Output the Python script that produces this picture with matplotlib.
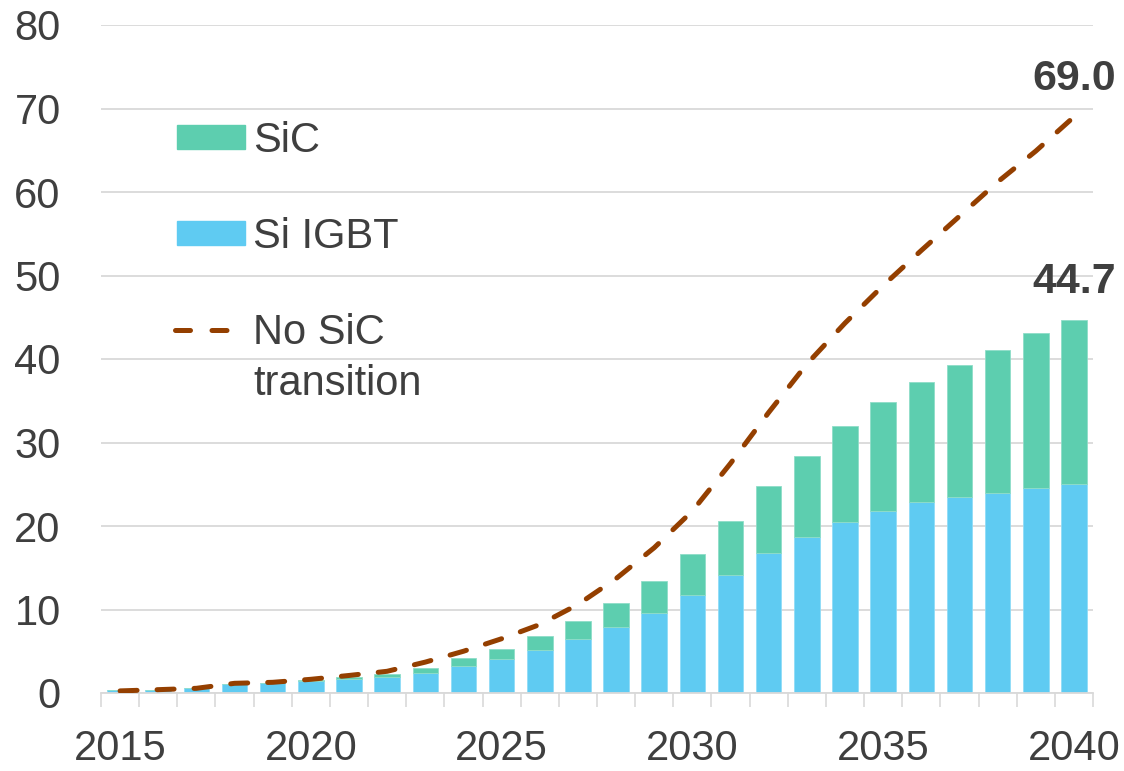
import matplotlib
matplotlib.use("Agg")
import matplotlib.pyplot as plt
from matplotlib.patches import Rectangle
from matplotlib.lines import Line2D
import numpy as np

years = list(range(2015, 2041))
si_igbt = [0.3, 0.4, 0.65, 1.08, 1.16, 1.48, 1.72, 1.88, 2.44, 3.28, 4.12, 5.2, 6.44,
           7.92, 9.64, 11.68, 14.12, 16.72, 18.64, 20.44, 21.8, 22.84, 23.52, 23.96, 24.6, 25.0]
total = [0.3, 0.4, 0.65, 1.08, 1.16, 1.5, 1.92, 2.28, 3.0, 4.16, 5.3, 6.83, 8.6,
         10.72, 13.36, 16.64, 20.64, 24.8, 28.4, 31.92, 34.84, 37.24, 39.28, 41.08, 43.08, 44.7]
sic = [t - s for t, s in zip(total, si_igbt)]
no_sic = [0.25, 0.4, 0.56, 1.16, 1.28, 1.64, 2.1, 2.6, 3.7, 5.0, 6.5, 8.2, 10.6,
          13.7, 17.4, 21.8, 27.5, 33.6, 39.4, 44.3, 48.8, 53.0, 57.1, 61.2, 64.9, 69.0]
tick_years = [2015, 2020, 2025, 2030, 2035, 2040]
yticks = list(range(0, 81, 10))

GREEN = "#5DCEAF"
BLUE = "#5FCBF2"
BROWN = "#943F00"
TXT = "#3F3F3F"
GRID = "#D9D9D9"

plt.rcParams['font.family'] = ['Liberation Sans', 'DejaVu Sans']

fig = plt.figure(figsize=(11.24, 7.71), dpi=100)
ax = fig.add_axes([101/1124, (771-693)/771, 992/1124, 668/771])

ax.bar(years, si_igbt, width=0.67, color=BLUE, edgecolor="#8FDCF7", linewidth=0.6, zorder=2)
ax.bar(years, sic, bottom=si_igbt, width=0.67, color=GREEN, edgecolor="#8FDDC8", linewidth=0.6, zorder=2)
line, = ax.plot(years, no_sic, color=BROWN, linewidth=3.6, zorder=3,
                dash_capstyle='round', solid_capstyle='round')
line.set_dashes([3.4, 4.0])

ax.set_xlim(2014.5, 2040.5)
ax.set_ylim(0, 80)
ax.set_yticks(yticks)
ax.set_xticks(tick_years)
ax.set_xticks(np.arange(2014.5, 2041, 1), minor=True)
ax.tick_params(axis='y', length=0, pad=29, labelsize=30, labelcolor=TXT)
ax.tick_params(axis='x', which='major', length=0, pad=26, labelsize=30, labelcolor=TXT)
ax.tick_params(axis='x', which='minor', length=10, width=1.2, color=GRID)
ax.grid(axis='y', color=GRID, linewidth=1.3, zorder=0)
ax.set_axisbelow(True)
for s in ['left', 'right', 'top']:
    ax.spines[s].set_visible(False)
ax.spines['bottom'].set_color(GRID)
ax.spines['bottom'].set_linewidth(1.3)

# end labels
ax.annotate(f"{no_sic[-1]:.1f}", (years[-1], no_sic[-1]), xytext=(0, 19), textcoords='offset points',
            ha='center', va='baseline', fontsize=31, fontweight='bold', color=TXT, annotation_clip=False)
ax.annotate(f"{total[-1]:.1f}", (years[-1], total[-1]), xytext=(0, 19), textcoords='offset points',
            ha='center', va='baseline', fontsize=31, fontweight='bold', color=TXT, annotation_clip=False)

# manual legend
tr = ax.transAxes
ax.add_patch(Rectangle((0.0766, 0.814), 0.0685, 0.036, transform=tr, color=GREEN, clip_on=False))
ax.add_patch(Rectangle((0.0766, 0.671), 0.0685, 0.036, transform=tr, color=BLUE, clip_on=False))
leg_line = Line2D([0.0746, 0.133], [0.543, 0.543], transform=tr, color=BROWN, linewidth=3.6,
                  dash_capstyle='round')
leg_line.set_dashes([3.0, 4.3])
ax.add_line(leg_line)
ax.text(0.1532, 0.8103, "SiC", transform=tr, fontsize=30, color=TXT, va='baseline', ha='left')
ax.text(0.1532, 0.6657, "Si IGBT", transform=tr, fontsize=30, color=TXT, va='baseline', ha='left')
ax.text(0.1532, 0.522, "No SiC", transform=tr, fontsize=30, color=TXT, va='baseline', ha='left')
ax.text(0.1532, 0.446, "transition", transform=tr, fontsize=30, color=TXT, va='baseline', ha='left')

fig.savefig("out.png", dpi=100)
